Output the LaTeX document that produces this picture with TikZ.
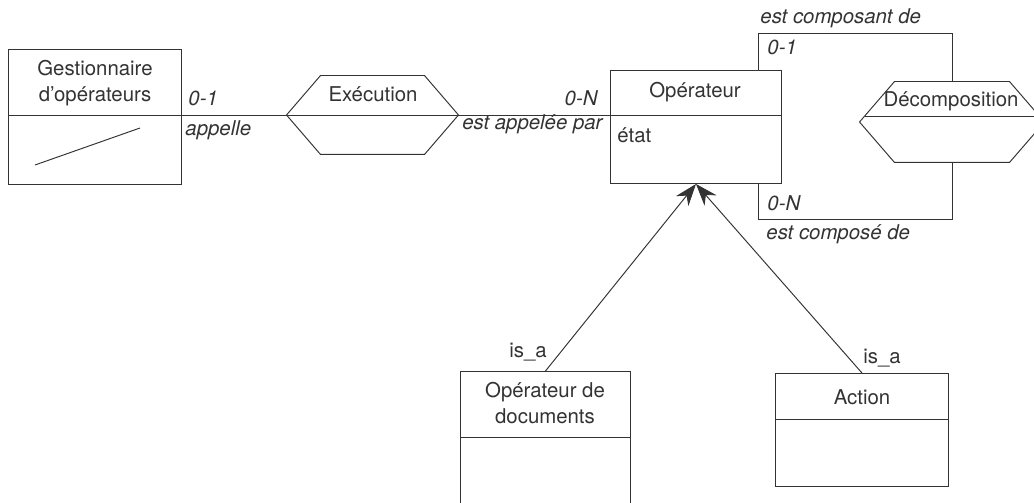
\documentclass[tikz,border=0pt]{standalone}
\usepackage{fontspec}
\setmainfont{TeX Gyre Heros}
\usepackage{xcolor}
\usetikzlibrary{arrows.meta,calc}
\definecolor{ink}{HTML}{333333}

\begin{document}
\begin{tikzpicture}[x=0.2mm, y=-0.2mm, line width=0.55pt, color=ink,
% common options for the class boxes:
box/.style = {draw, rectangle, anchor=north west, inner sep=0},
% common options for the relationship hexagons:
rel/.style = {rectangle, inner sep=0, minimum width=#1*0.2mm, minimum height=78*0.2mm},
title/.style = {align=center, inner sep=0, font=\fontsize{11.6}{15}\selectfont},
role/.style = {inner sep=0, font=\fontsize{11.6}{14}\selectfont\itshape},
isa/.style = {-{Stealth[length=12.5pt, width=9pt, inset=4pt]}}]
\useasboundingbox (0,0) rectangle (1034,503);
\clip (0,0) rectangle (1034,503);
% classes
\node[box, minimum width=173*0.2mm, minimum height=135*0.2mm] (gest) at (8,49) {};
\node[title] (gestT) at (95,83) {Gestionnaire\\d'opérateurs};
\draw ($(gest.north west)+(0,66)$) -- ($(gest.north east)+(0,66)$);
\draw ($(gest.north west)+(27,116)$) -- ($(gest.north west)+(132,79)$);
\node[box, minimum width=171*0.2mm, minimum height=113*0.2mm] (op) at (610,70) {};
\node[title] (opT) at (695,92) {Opérateur};
\node[title, anchor=west] (etat) at (617,135) {état};
\draw ($(op.north west)+(0,45)$) -- ($(op.north east)+(0,45)$);
\node[box, minimum width=170*0.2mm, minimum height=150*0.2mm] (doc) at (460,371) {};
\node[title] (docT) at (545,403) {Opérateur de\\documents};
\draw ($(doc.north west)+(0,66)$) -- ($(doc.north east)+(0,66)$);
\node[box, minimum width=173*0.2mm, minimum height=113*0.2mm] (act) at (775,373) {};
\node[title] (actT) at (862,397) {Action};
\draw ($(act.north west)+(0,46)$) -- ($(act.north east)+(0,46)$);
% relationships
\node[rel=171] (exec) at (372.5,115) {};
\draw (exec.west) -- ($(exec.north west)+(34,0)$) -- ($(exec.north east)+(-34,0)$)
  -- (exec.east) -- ($(exec.south east)+(-34,0)$) -- ($(exec.south west)+(34,0)$) -- cycle;
\draw (exec.west) -- (exec.east);
\node[title] (execT) at (373,94) {Exécution};
\node[rel=184, minimum height=80*0.2mm] (dec) at (952,122) {};
\draw (dec.west) -- ($(dec.north west)+(35,0)$) -- ($(dec.north east)+(-35,0)$)
  -- (dec.east) -- ($(dec.south east)+(-35,0)$) -- ($(dec.south west)+(35,0)$) -- cycle;
\draw ($(dec.west)+(5,-6)$) -- ($(dec.east)+(-5,-6)$);
\node[title] (decT) at (951,101) {Décomposition};
% links
\draw (gest.east |- exec.west) -- (exec.west);
\draw (exec.east) -- (exec.east -| op.west);
\coordinate (topc) at (952,33);
\coordinate (botc) at (952,219);
\draw ($(op.north west)+(148,0)$) |- (topc) -- (dec.north);
\draw (dec.south) -- (botc) -| ($(op.south west)+(148,0)$);
\draw[isa] (doc.north) -- (op.south);
\draw[isa] (act.north) -- (op.south);
% roles
\node[role, anchor=west] (r1) at (188,98) {0-1};
\node[role, anchor=west] (r2) at (185,130) {appelle};
\node[role, anchor=east] (r3) at (598,98) {0-N};
\node[role, anchor=east] (r4) at (603,124) {est appelée par};
\node[role, anchor=west] (r5) at (760,18) {est composant de};
\node[role, anchor=west] (r6) at (767,47) {0-1};
\node[role, anchor=west] (r7) at (767,203) {0-N};
\node[role, anchor=west] (r8) at (766,234) {est composé de};
\node[title] (isa1) at (528,352) {is\_a};
\node[title] (isa2) at (882,358) {is\_a};
\end{tikzpicture}
\end{document}
